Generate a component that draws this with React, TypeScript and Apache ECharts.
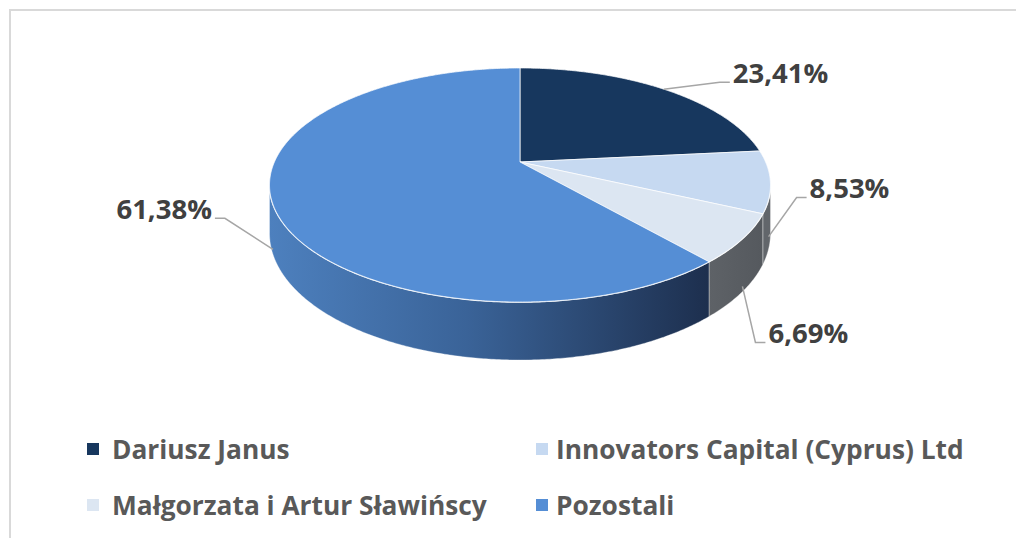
import React, { useEffect, useRef } from "react";
import * as echarts from "echarts";

// ---- data ----
const names = [
  "Dariusz Janus",
  "Innovators Capital (Cyprus) Ltd",
  "Małgorzata i Artur Sławińscy",
  "Pozostali",
];
const shares = [23.41, 8.53, 6.69, 61.38];

// ---- styles / layout (not data) ----
const topColors = ["#17375E", "#C6D9F1", "#DCE6F2", "#558ED5"];
const labelAnchorDepth = [0, 0.75, 0.9, 0.9];
const labelElbow = [
  [56, -7],
  [28, -39],
  [13, 56],
  [-48, -31],
];

const CX = 520;
const CY = 162;
const SX = 245.6;
const SY = 112.5;
const K = 0.1966;
const DEPTH = 46.6;

const TOTAL = shares.reduce((a, b) => a + b, 0);
const starts = shares.map((_, i) => shares.slice(0, i).reduce((a, b) => a + b, 0));
const fmt = (v: number) => v.toFixed(2).replace(".", ",") + "%";

function proj(a: number, h: number): [number, number] {
  const u = Math.sin(a);
  const v = -Math.cos(a);
  const s = 1 / (1 - K * v);
  return [CX + SX * u * s, CY + (SY * v + h) * s];
}

const A_R = Math.acos(-K);
const A_L = 2 * Math.PI - A_R;

function arc(a0: number, a1: number, h: number): [number, number][] {
  const pts: [number, number][] = [];
  const n = Math.max(2, Math.ceil(((a1 - a0) * 180) / Math.PI / 0.5));
  for (let j = 0; j <= n; j++) pts.push(proj(a0 + ((a1 - a0) * j) / n, h));
  return pts;
}

function wallFill(i: number): any {
  if (i === 3)
    return new echarts.graphic.LinearGradient(0, 0, 1, 0, [
      { offset: 0, color: "#4D80BE" },
      { offset: 0.45, color: "#3A6398" },
      { offset: 1, color: "#1D2F4E" },
    ]);
  if (i === 2)
    return new echarts.graphic.LinearGradient(0, 0, 1, 0, [
      { offset: 0, color: "#5E6267" },
      { offset: 1, color: "#55595E" },
    ]);
  if (i === 1) return "#62666B";
  return "#0F2440";
}

function renderSlice(params: any, api: any) {
  const i = params.seriesIndex;
  const start = (api.value(0) / TOTAL) * 2 * Math.PI;
  const end = start + (api.value(1) / TOTAL) * 2 * Math.PI;
  const children: any[] = [];

  // side wall (visible front part)
  const a0 = Math.max(start, A_R);
  const a1 = Math.min(end, A_L);
  if (a1 > a0) {
    const top = arc(a0, a1, 0);
    const bottom = arc(a0, a1, DEPTH).reverse();
    children.push({
      type: "polygon",
      shape: { points: top.concat(bottom) },
      style: { fill: wallFill(i), stroke: "rgba(255,255,255,0.35)", lineWidth: 1 },
    });
    children.push({
      type: "polyline",
      shape: { points: top },
      style: { stroke: "rgba(255,255,255,0.9)", lineWidth: 1.5, fill: null },
    });
  }

  // top face
  const facePts = [[CX, CY] as [number, number]].concat(arc(start, end, 0));
  children.push({
    type: "polygon",
    shape: { points: facePts },
    style: { fill: topColors[i], stroke: "rgba(255,255,255,0.7)", lineWidth: 1 },
  });

  // label with leader line
  const mid = (start + end) / 2;
  let ang = mid;
  const depthF = labelAnchorDepth[i];
  if (depthF > 0 && a1 > a0 && (mid < a0 || mid > a1)) ang = (a0 + a1) / 2;
  const anchor = proj(ang, DEPTH * depthF);
  const elbow: [number, number] = [anchor[0] + labelElbow[i][0], anchor[1] + labelElbow[i][1]];
  const dir = labelElbow[i][0] >= 0 ? 1 : -1;
  const end2: [number, number] = [elbow[0] + dir * 10, elbow[1]];
  children.push({
    type: "polyline",
    shape: { points: [anchor, elbow, end2] },
    style: { stroke: "#A6A6A6", lineWidth: 1.5, fill: null },
  });
  children.push({
    type: "text",
    style: {
      text: fmt(api.value(1)),
      x: end2[0] + dir * 3,
      y: elbow[1] - 10,
      fill: "#404040",
      fontSize: 27.5,
      fontWeight: "bold",
      fontFamily: "Open Sans",
      align: dir > 0 ? "left" : "right",
      verticalAlign: "middle",
    },
  });

  return { type: "group", children };
}

const legendPos = [
  { left: 87, top: 434, gap: 8 },
  { left: 536, top: 434, gap: 3 },
  { left: 87, top: 490, gap: 8 },
  { left: 536, top: 490, gap: 3 },
];

export default function App() {
  const ref = useRef<HTMLDivElement>(null);
  useEffect(() => {
    if (!ref.current) return;
    const chart = echarts.init(ref.current, undefined, { renderer: "svg" });
    chart.setOption({
      animation: false,
      backgroundColor: "#ffffff",
      color: topColors,
      legend: names.map((n, i) => ({
        data: [n],
        left: legendPos[i].left,
        top: legendPos[i].top,
        padding: 0,
        icon: "rect",
        itemWidth: 12,
        itemHeight: 12,
        selectedMode: false,
        textStyle: {
          fontSize: 26.3,
          fontWeight: "bold",
          fontFamily: "Open Sans",
          color: "#595959",
          lineHeight: 30,
          padding: [0, 0, 0, legendPos[i].gap],
        },
      })),
      graphic: [
        {
          type: "rect",
          shape: { x: 10, y: 10, width: 1100, height: 600 },
          style: { fill: null, stroke: "#D9D9D9", lineWidth: 2 },
          silent: true,
        },
      ],
      series: names.map((n, i) => ({
        type: "custom",
        name: n,
        coordinateSystem: "none",
        itemStyle: { color: topColors[i] },
        data: [[starts[i], shares[i]]],
        renderItem: renderSlice,
      })),
    });
    return () => chart.dispose();
  }, []);
  return (
    <div
      ref={ref}
      style={{ position: "fixed", left: 0, top: 0, width: 1016, height: 538 }}
    />
  );
}
